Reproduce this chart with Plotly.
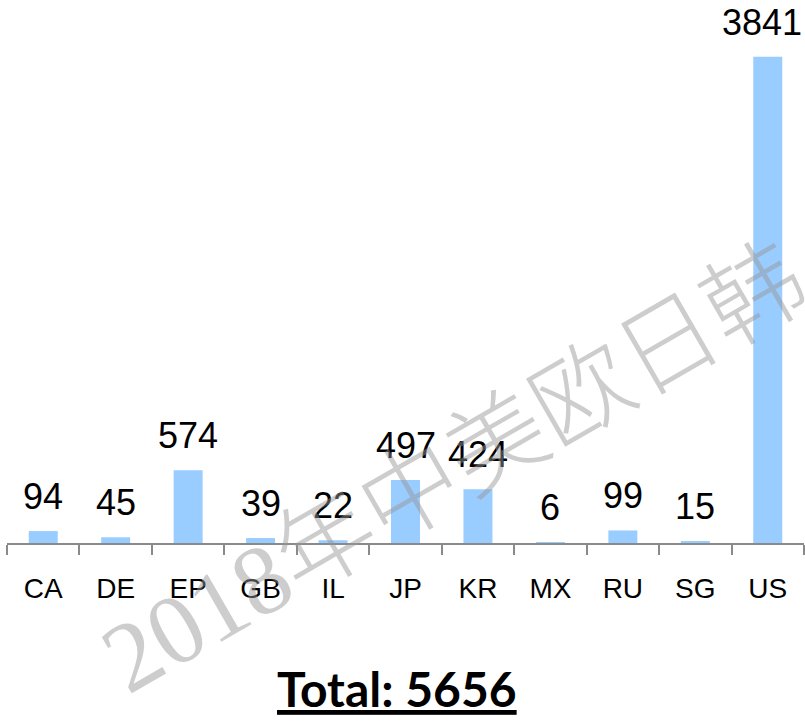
import plotly.graph_objects as go

# patent counts by office
countries = ["CA", "DE", "EP", "GB", "IL", "JP", "KR", "MX", "RU", "SG", "US"]
counts = [94, 45, 574, 39, 22, 497, 424, 6, 99, 15, 3841]
total_text = "Total: 5656"
watermark = "2018年中美欧日韩"

fig = go.Figure()
fig.add_trace(go.Bar(x=countries, y=counts, marker_color="#99CCFF",
                     marker_line_width=0, hoverinfo="skip"))

# value labels above each bar (last one nudged left so it stays inside the page)
for i, (c, v) in enumerate(zip(countries, counts)):
    fig.add_annotation(x=c, y=v, xref="x", yref="y", text=str(v), showarrow=False,
                       xanchor="center", yanchor="bottom", yshift=12,
                       xshift=-6 if i == len(countries) - 1 else 0,
                       font=dict(family="Liberation Sans, Arial", size=36, color="#000000"))

fig.add_annotation(x=0.4893, y=-0.268, xref="paper", yref="paper", text="<b>" + total_text + "</b>",
                   showarrow=False, xanchor="center", yanchor="middle",
                   font=dict(family="Lato", size=48, color="#000000", lineposition="under"))

fig.add_annotation(x=0.561, y=0.138, xref="paper", yref="paper", text=watermark,
                   showarrow=False, xanchor="center", yanchor="middle", textangle=-30,
                   font=dict(family="Liberation Serif, Noto Sans CJK SC", size=99, weight=300,
                             color="rgba(150,150,150,0.48)"))

fig.update_layout(width=805, height=721, margin=dict(l=7, r=1, t=0, b=178),
                  plot_bgcolor="white", paper_bgcolor="white", showlegend=False, bargap=0.6)
fig.update_xaxes(range=[-0.5, 10.5], showline=True, linecolor="#8a8a8a", linewidth=1.5,
                 ticks="outside", ticklen=10, tickwidth=1.5, tickcolor="#8a8a8a", tickson="boundaries",
                 showgrid=False, automargin=False, ticklabelstandoff=20,
                 tickfont=dict(family="Liberation Sans, Arial", size=28, color="#000000"))
fig.update_yaxes(range=[0, 4290], visible=False, showgrid=False, automargin=False)

# drop the default page margin so the chart sits at the top-left corner
fig.write_html("out.html", config={"displayModeBar": False},
               post_script="document.body.style.margin='0';document.body.style.overflow='hidden';")
